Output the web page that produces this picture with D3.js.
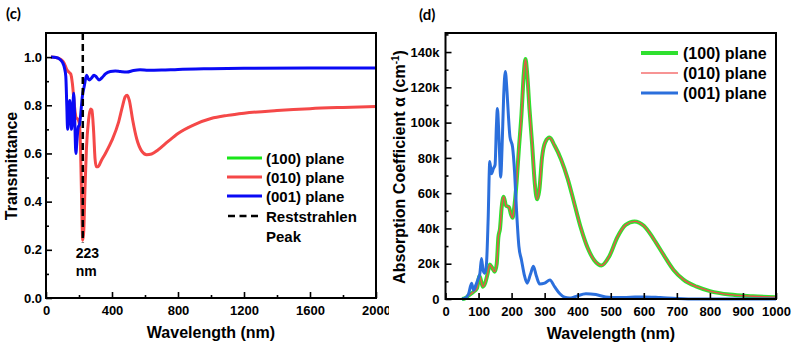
<!DOCTYPE html>
<html><head><meta charset="utf-8">
<script src="https://cdn.jsdelivr.net/npm/d3@7"></script>
<style>
html,body{margin:0;padding:0;background:#fff;}
svg{display:block;font-family:"Liberation Sans",Arial,sans-serif;font-weight:bold;}
</style></head><body>
<svg id="chart" width="793" height="356"></svg>
<script>
// ---------- Panel (c): Transmittance ----------
const tRedLambda = [30,60,90,110,125,135,150,160,172,182,195,203,210,216,223,229,236,245,258,270,278,288,297,305,315,335,360,400,440,465,480,492,505,525,550,580,610,640,680,740,800,900,1000,1100,1200,1400,1600,1800,2000];
const tRed       = [1.0,0.998,0.99,0.975,0.95,0.94,0.93,0.89,0.8,0.75,0.74,0.72,0.6,0.4,0.24,0.28,0.45,0.62,0.74,0.785,0.78,0.7,0.58,0.545,0.545,0.57,0.6,0.655,0.73,0.8,0.835,0.842,0.82,0.74,0.66,0.61,0.595,0.598,0.615,0.65,0.683,0.72,0.745,0.758,0.767,0.778,0.786,0.791,0.795];
const tGreenLambda = [30,60,90,110,125,135,150,160,172,182,195,203,210,216,223,229,236,245,258,270,278,288,297,305,315,335,360,400,440,465,480,492,505,525,550,580,610,640,680,740,800,900,1000,1100,1200,1400,1600,1800,2000];
const tGreen       = [1.0,0.998,0.99,0.975,0.95,0.94,0.93,0.89,0.8,0.75,0.74,0.72,0.6,0.4,0.24,0.28,0.45,0.62,0.74,0.785,0.78,0.7,0.58,0.545,0.545,0.57,0.6,0.655,0.73,0.8,0.835,0.842,0.82,0.74,0.66,0.61,0.595,0.598,0.615,0.65,0.683,0.72,0.745,0.758,0.767,0.778,0.786,0.791,0.795];
const tBlueLambda = [30,60,85,100,112,120,126,131,137,144,149,154,160,168,175,181,188,196,203,210,220,232,246,256,263,275,291,305,321,340,360,390,420,450,490,530,570,620,700,800,1000,1200,1600,2000];
const tBlue       = [1.0,0.998,0.99,0.978,0.955,0.92,0.80,0.70,0.76,0.82,0.78,0.70,0.74,0.85,0.72,0.60,0.66,0.71,0.72,0.76,0.835,0.88,0.925,0.91,0.905,0.912,0.925,0.918,0.905,0.915,0.93,0.94,0.942,0.94,0.938,0.944,0.947,0.945,0.946,0.949,0.952,0.954,0.955,0.955];
const peakLambda = 223;
const peakRange = [1.1, 0.23];
const cXTicks = [0,400,800,1200,1600,2000];
const cXMinor = [200,600,1000,1400,1800];
const cYTicks = [0,0.2,0.4,0.6,0.8,1.0];
const cYMinor = [0.1,0.3,0.5,0.7,0.9];
const cLegend = ["(100) plane","(010) plane","(001) plane","Reststrahlen"];

// ---------- Panel (d): Absorption ----------
const aLambda = [50,60,70,84,95,103,108,113,120,127,134,140,149,155,160,165,170,176,183,192,198,203,208,215,222,230,237,242,247,254,262,270,277,284,292,302,315,330,350,370,390,410,430,450,472,495,520,545,572,600,630,660,690,720,760,800,860,930,1000];
const aGreen  = [0,0.5,2,4,6,13,10,7,9,14,19.5,18,15.5,20,35,40,52,58,53,52,48,46,52,66,85,105,128,136,128,108,88,66,56.5,62,80,89,91.5,87,79,68,54,40,29,22,19,24,35,42,44,41.5,34,25,16.5,11,7,4.5,2.5,1.6,1];
const aRed    = [0,0.5,2,4,6,13,10,7,9,14,19.5,18,15.5,20,35,40,52,58,53,52,48,46,52,66,85,105,128,136,128,108,88,66,56.5,62,80,89,91.5,87,79,68,54,40,29,22,19,24,35,42,44,41.5,34,25,16.5,11,7,4.5,2.5,1.6,1];
const aBlueLambda = [50,60,70,79,85,92,100,104,109,114,119,124,129,134,139,145,150,154,157,161,164,167,171,176,181,186,190,195,203,209,215,222,230,238,247,257,266,275,285,300,316,330,346,360,375,395,425,455,485,520,560,600,650,700,760,850,1000];
const aBlue       = [0,0.5,3,9,5,8,12,14.5,23,16,14.6,20,45,78,71,74,76,98,108,95,80,69,85,115,129,118,105,92,86,72,50,30,22,14,9,14,18.5,13,8.5,9,10.8,7,3,1,0.5,1.5,3,2.5,1.2,0.8,1,1.2,0.8,0.3,0,0,0];
const dXTicks = [0,100,200,300,400,500,600,700,800,900,1000];
const dYTicks = [0,20,40,60,80,100,120,140];
const dYMinor = [10,30,50,70,90,110,130,150];
const dLegend = ["(100) plane","(010) plane","(001) plane"];

const svg = d3.select("#chart");
svg.append("rect").attr("width",793).attr("height",356).attr("fill","#fff");

svg.append("defs").append("clipPath").attr("id","cpanel")
  .append("rect").attr("x",0).attr("y",0).attr("width",389).attr("height",356);

function zipPts(xs, ys){ return xs.map((x,i)=>[x,ys[i]]); }

function axes(g, x, y, opt){
  const {W,H} = opt;
  if (opt.xMinor) g.append("g").attr("transform",`translate(0,${H})`)
    .call(d3.axisBottom(x).tickValues(opt.xMinor).tickSize(-3).tickFormat(""))
    .call(s=>s.select(".domain").remove());
  if (opt.yMinor) g.append("g")
    .call(d3.axisLeft(y).tickValues(opt.yMinor).tickSize(-3).tickFormat(""))
    .call(s=>s.select(".domain").remove());
  const xa = g.append("g").attr("transform",`translate(0,${H})`)
    .call(d3.axisBottom(x).tickValues(opt.xTicks).tickSize(-6).tickPadding(opt.xPad).tickFormat(opt.xFmt));
  xa.select(".domain").remove();
  const ya = g.append("g")
    .call(d3.axisLeft(y).tickValues(opt.yTicks).tickSize(-6).tickPadding(opt.yPad).tickFormat(opt.yFmt));
  ya.select(".domain").remove();
  g.selectAll(".tick line").attr("stroke","#000").attr("stroke-width",1.6);
  g.selectAll(".tick text").attr("font-size",13).attr("font-weight","bold").attr("fill","#000")
    .attr("font-family","'Liberation Sans',Arial,sans-serif");
  g.append("rect").attr("width",W).attr("height",H).attr("fill","none")
    .attr("stroke","#000").attr("stroke-width",2);
}

// ===== Panel c =====
{
  const L=46, T=33, W=330, H=265;
  const root = svg.append("g").attr("clip-path","url(#cpanel)");
  const g = root.append("g").attr("transform",`translate(${L},${T})`);
  const x = d3.scaleLinear().domain([0,2000]).range([0,W]);
  const y = d3.scaleLinear().domain([0,1.1]).range([H,0]);
  const line = d3.line().x(d=>x(d[0])).y(d=>y(d[1])).curve(d3.curveMonotoneX);
  g.append("path").datum(zipPts(tGreenLambda,tGreen)).attr("d",line).attr("fill","none").attr("stroke","#19e619").attr("stroke-width",1.5);
  g.append("path").datum(zipPts(tRedLambda,tRed)).attr("d",line).attr("fill","none").attr("stroke","#f54848").attr("stroke-width",3);
  g.append("path").datum(zipPts(tBlueLambda,tBlue)).attr("d",line).attr("fill","none").attr("stroke","#0a0af5").attr("stroke-width",3);
  g.append("line").attr("x1",x(peakLambda)).attr("x2",x(peakLambda))
    .attr("y1",y(peakRange[0])).attr("y2",y(peakRange[1]))
    .attr("stroke","#000").attr("stroke-width",2.5).attr("stroke-dasharray","7,4");
  axes(g,x,y,{W,H,xTicks:cXTicks,xMinor:cXMinor,yTicks:cYTicks,yMinor:cYMinor,
    xPad:8,yPad:4,xFmt:d3.format("d"),yFmt:d3.format(".1f")});
  // annotation
  g.append("text").attr("x",x(peakLambda)-7).attr("y",225).attr("font-size",14).text("223");
  g.append("text").attr("x",x(peakLambda)-7).attr("y",243).attr("font-size",14).text("nm");
  // legend
  const lg = root.append("g");
  const rowsY=[158,177,196,216];
  const cols=["#19e619","#f54848","#0a0af5"];
  cols.forEach((c,i)=>{
    lg.append("line").attr("x1",227).attr("x2",262).attr("y1",rowsY[i]).attr("y2",rowsY[i]).attr("stroke",c).attr("stroke-width",3);
  });
  lg.append("line").attr("x1",228).attr("x2",262).attr("y1",rowsY[3]).attr("y2",rowsY[3])
    .attr("stroke","#000").attr("stroke-width",2.5).attr("stroke-dasharray","7,4.5");
  cLegend.forEach((t,i)=>{
    lg.append("text").attr("x",266).attr("y",rowsY[i]+5.5).attr("font-size",15).text(t);
  });
  lg.append("text").attr("x",266).attr("y",236+5.5).attr("font-size",15).text("Peak");
  // titles
  root.append("text").attr("x",211).attr("y",338).attr("text-anchor","middle").attr("font-size",16).text("Wavelength (nm)");
  root.append("text").attr("transform","translate(17,166) rotate(-90)").attr("text-anchor","middle").attr("font-size",16).text("Transmittance");
  root.append("text").attr("x",6).attr("y",19).attr("font-size",15)
    .attr("font-family","Lato,'Open Sans',sans-serif").attr("font-weight","bold").text("(c)");
}

// ===== Panel d =====
{
  const L=445.5, T=33, W=330.5, H=266;
  const g = svg.append("g").attr("transform",`translate(${L},${T})`);
  const x = d3.scaleLinear().domain([0,1000]).range([0,W]);
  const y = d3.scaleLinear().domain([0,150.8]).range([H,0]);
  const line = d3.line().x(d=>x(d[0])).y(d=>y(d[1])).curve(d3.curveMonotoneX);
  g.append("path").datum(zipPts(aLambda,aGreen)).attr("d",line).attr("fill","none").attr("stroke","#2fe02f").attr("stroke-width",4);
  g.append("path").datum(zipPts(aLambda,aRed)).attr("d",line).attr("fill","none").attr("stroke","#ee4f4a").attr("stroke-width",1.4);
  g.append("path").datum(zipPts(aBlueLambda,aBlue)).attr("d",line).attr("fill","none").attr("stroke","#2b6fdc").attr("stroke-width",3);
  axes(g,x,y,{W,H,xTicks:dXTicks,yTicks:dYTicks,yMinor:dYMinor,
    xPad:8,yPad:6,xFmt:d3.format("d"),yFmt:d=>d===0?"0":d+"k"});
  // legend
  const rowsY=[53,73,93];
  const cols=["#2fe02f","#f57070","#2b6fdc"];
  const sw=[4,1.6,3];
  cols.forEach((c,i)=>{
    svg.append("line").attr("x1",641).attr("x2",678).attr("y1",rowsY[i]).attr("y2",rowsY[i]).attr("stroke",c).attr("stroke-width",sw[i]);
    svg.append("text").attr("x",683).attr("y",rowsY[i]+6).attr("font-size",16).text(dLegend[i]);
  });
  svg.append("text").attr("x",611).attr("y",339).attr("text-anchor","middle").attr("font-size",16).text("Wavelength (nm)");
  const yl = svg.append("text").attr("transform","translate(405,167) rotate(-90)").attr("text-anchor","middle").attr("font-size",16);
  yl.append("tspan").text("Absorption Coefficient α (cm");
  yl.append("tspan").attr("font-size",10).attr("dy",-6).text("-1");
  yl.append("tspan").attr("dy",6).text(")");
  svg.append("text").attr("x",419).attr("y",20).attr("font-size",15)
    .attr("font-family","Lato,'Open Sans',sans-serif").attr("font-weight","bold").text("(d)");
}
</script>
</body></html>
